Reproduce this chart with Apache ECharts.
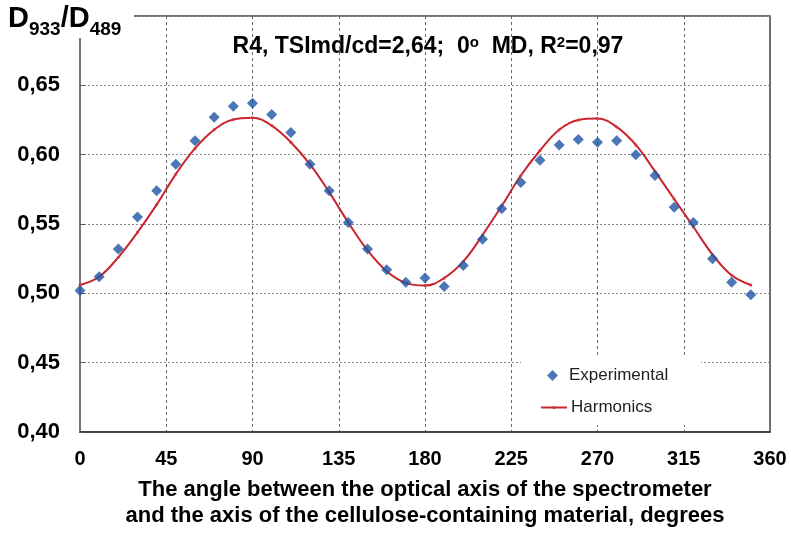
<!DOCTYPE html>
<html>
<head>
<meta charset="utf-8">
<script src="https://cdn.jsdelivr.net/npm/echarts@6/dist/echarts.min.js"></script>
<style>html,body{margin:0;padding:0;background:#fff;}#chart{width:791px;height:534px;}</style>
</head>
<body>
<div id="chart"></div>
<script>
var angles = [0,10,20,30,40,50,60,70,80,90,100,110,120,130,140,150,160,170,180,190,200,210,220,230,240,250,260,270,280,290,300,310,320,330,340,350];
var experimental = [0.502,0.512,0.532,0.555,0.574,0.593,0.610,0.627,0.635,0.637,0.629,0.616,0.593,0.574,0.551,0.532,0.517,0.508,0.511,0.505,0.520,0.539,0.561,0.580,0.596,0.607,0.611,0.609,0.610,0.600,0.585,0.562,0.551,0.525,0.508,0.499];
var harmonics = [0.506,0.512,0.526,0.544,0.564,0.586,0.6045,0.618,0.6254,0.6266,0.621,0.609,0.593,0.573,0.551,0.531,0.516,0.5075,0.5056,0.511,0.523,0.542,0.563,0.585,0.603,0.618,0.625,0.626,0.620,0.607,0.588,0.568,0.548,0.528,0.513,0.506];
var xTicks = [0,45,90,135,180,225,270,315,360];
var yTicks = [0.40,0.45,0.50,0.55,0.60,0.65,0.70];

function pairs(xs, ys){ return xs.map(function(x,i){return [x, ys[i]];}); }

var FONT = '"Liberation Sans", Arial, sans-serif';
var chart = echarts.init(document.getElementById('chart'), null, {renderer:'canvas'});
chart.setOption({
  animation: false,
  backgroundColor: '#fff',
  textStyle: {fontFamily: FONT},
  title: {
    text: 'R4, TSImd/cd=2,64;  0{sup|o}  MD, R{sup|2}=0,97',
    left: 423, top: 30, textAlign: 'center',
    textStyle: {
      fontFamily: FONT, fontSize: 23, fontWeight: 'bold', color: '#000',
      rich: { sup: {fontFamily: FONT, fontSize: 15, fontWeight: 'bold', color:'#000', verticalAlign: 'top', lineHeight: 12} }
    }
  },
  grid: {left: 80, right: 21, top: 16, bottom: 96, show: true, borderColor: '#444', borderWidth: 1.5, backgroundColor: 'transparent'},
  xAxis: {
    type: 'value', min: 0, max: 360, interval: 45,
    name: 'The angle between the optical axis of the spectrometer\nand the axis of the cellulose-containing material, degrees',
    nameLocation: 'middle', nameGap: 45,
    nameTextStyle: {fontFamily: FONT, fontSize: 22, fontWeight: 'bold', color: '#000', lineHeight: 26},
    axisLine: {lineStyle: {color: '#333', width: 1.5}},
    axisTick: {show: false},
    axisLabel: {fontFamily: FONT, fontSize: 20, fontWeight: 'bold', color: '#000', margin: 17,
      formatter: function(v){ return xTicks.indexOf(v) >= 0 ? String(v) : ''; }},
    splitLine: {show: true, lineStyle: {color: '#666', type: [3,3], width: 1}}
  },
  yAxis: {
    type: 'value', min: 0.40, max: 0.70, interval: 0.05,
    axisLine: {show: true, lineStyle: {color: '#777', width: 2}},
    axisTick: {show: true, inside: true, length: 5, lineStyle: {color: '#555'}},
    axisLabel: {fontFamily: FONT, fontSize: 22, fontWeight: 'bold', color: '#000', margin: 20,
      formatter: function(v){ if (Math.abs(v-0.70) < 1e-6) return ''; return v.toFixed(2).replace('.', ','); }},
    splitLine: {show: true, lineStyle: {color: '#888', type: [2,2], width: 1}}
  },
  legend: [
    {data: ['Experimental'], left: 547, top: 367, itemWidth: 11, itemHeight: 11, itemGap: 0, padding: 0,
     textStyle: {fontFamily: FONT, fontSize: 17, color: '#222', padding: [0,0,0,6]}},
    {data: ['Harmonics'], left: 540, top: 399, itemWidth: 26, itemHeight: 4, padding: 0,
     textStyle: {fontFamily: FONT, fontSize: 17, color: '#222', padding: [0,0,0,-1]}}
  ],
  graphic: [
    {type: 'rect', left: 521, top: 357, shape: {width: 180, height: 68}, style: {fill: '#fff'}, z: 1, silent: true},
    {type: 'rect', left: 0, top: 0, shape: {width: 134, height: 38}, style: {fill: '#fff'}, z: 10, silent: true},
    {type: 'text', left: 8, top: 4, z: 11, silent: true,
     style: {text: '{b|D}{s|933}{b|/D}{s|489}', fill: '#000',
       rich: {
         b: {fontFamily: FONT, fontSize: 29, fontWeight: 'bold', fill: '#000', verticalAlign: 'bottom', lineHeight: 30},
         s: {fontFamily: FONT, fontSize: 19, fontWeight: 'bold', fill: '#000', verticalAlign: 'bottom', lineHeight: 20, padding: [0,0,-6,0]}
       }}}
  ],
  series: [
    {name: 'Harmonics', type: 'line', data: pairs(angles, harmonics), smooth: 0.4,
     symbol: 'circle', symbolSize: 3, showSymbol: true,
     itemStyle: {color: '#D0363C'}, lineStyle: {color: '#C9252C', width: 2}, z: 2},
    {name: 'Experimental', type: 'scatter', data: pairs(angles, experimental),
     symbol: 'diamond', symbolSize: 11, itemStyle: {color: '#1E55A5'}, z: 3}
  ]
});
</script>
</body>
</html>
